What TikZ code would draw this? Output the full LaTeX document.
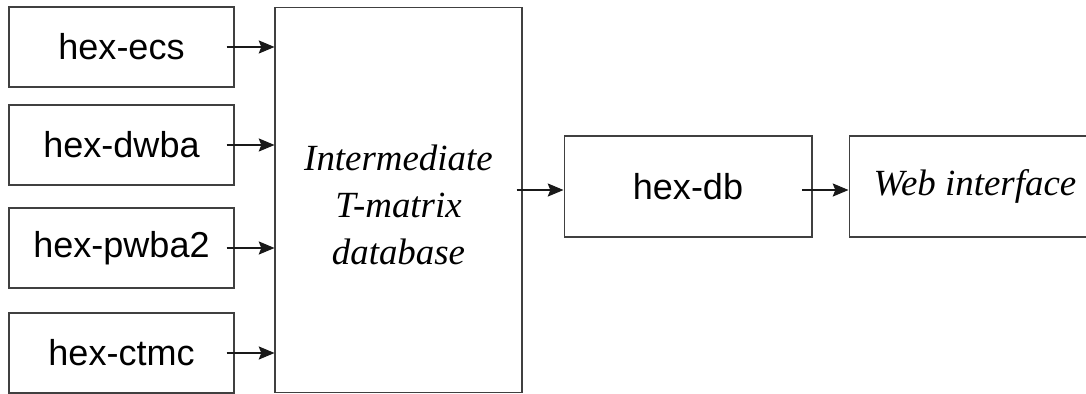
\documentclass[tikz,border=0pt]{standalone}
\usepackage{fontspec}
\setmainfont{Liberation Serif}
\setsansfont{Liberation Sans}
\usepackage{tikz}
\usetikzlibrary{arrows.meta,positioning,calc}

\tikzset{
  blk/.style={draw=black!75,line width=0.6pt,rectangle,inner sep=0pt,
    font=\fontsize{20.5}{25}\selectfont\sffamily},
  code/.style={blk,minimum width=4.5cm,minimum height=1.6cm},
  stage/.style={blk,minimum width=4.96cm,minimum height=2.02cm},
  note/.style={font=\fontsize{21}{26.7}\selectfont\rmfamily\itshape,align=center},
  flow/.style={->,line width=0.6pt,black!90}
}

\begin{document}
\begin{tikzpicture}[x=0.02cm,y=-0.02cm,>={Stealth[length=9pt,width=7.5pt,inset=1.5pt]}]
  \useasboundingbox (0,0) rectangle (1086,394);
  % solvers
  \node[code] (ecs) at (121.5,47) {hex-ecs};
  \node[code] (dwba) at (121.5,145) {hex-dwba};
  \node[code] (pwba) at (121.5,248) {hex-pwba2};
  \node[code] (ctmc) at (121.5,353) {hex-ctmc};
  % database
  \node[blk,minimum width=4.94cm,minimum height=7.72cm] (tdb) at (398.5,200) {};
  \node[note] (tdbtxt) at (398.5,205) {Intermediate\\T-matrix\\database};
  \node[stage] (db) at (688,186.5) {hex-db};
  \node[stage] (web) at (973,186.5) {};
  \node[note] (webtxt) at (975,186.5) {Web interface};
  % arrows
  \foreach \s in {ecs,dwba,pwba,ctmc}
    \draw[flow] ([xshift=-4.5pt]\s.east) -- (\s.east -| tdb.west);
  \draw[flow] ([xshift=-3.4pt,yshift=-2pt]tdb.east |- db.west) -- ([yshift=-2pt]db.west);
  \draw[flow] ([xshift=-5.7pt,yshift=-2pt]db.east) -- ([yshift=-2pt]db.east -| web.west);
\end{tikzpicture}
\end{document}
